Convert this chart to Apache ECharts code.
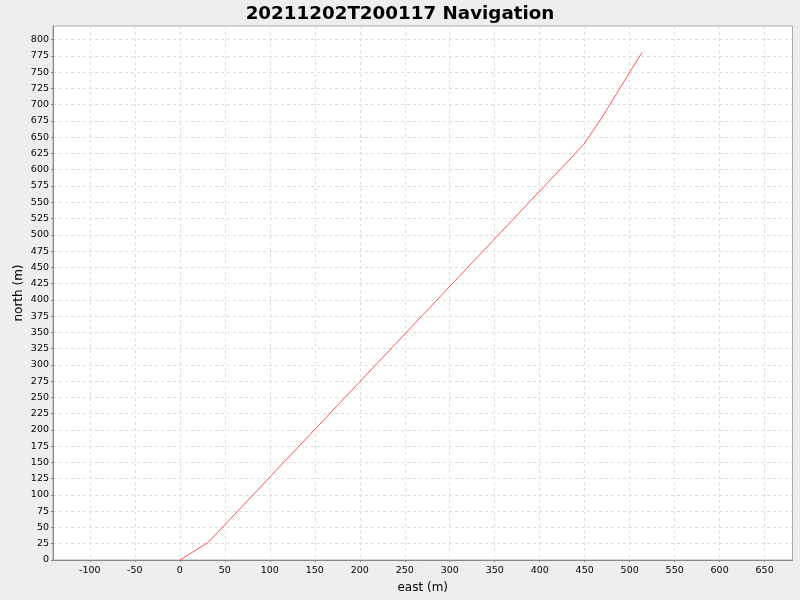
<!DOCTYPE html>
<html><head><meta charset="utf-8">
<script src="https://cdn.jsdelivr.net/npm/echarts@6/dist/echarts.min.js"></script>
<style>html,body{margin:0;padding:0;background:#eeeeee;}#c{width:800px;height:600px;}</style>
</head><body><div id="c"></div>
<script>
const titleText = '20211202T200117 Navigation';
const east = [0, 31.5, 449, 469, 514];
const north = [0, 27, 639, 680, 781];
const xTicks = [-100, -50, 0, 50, 100, 150, 200, 250, 300, 350, 400, 450, 500, 550, 600, 650];
const yTicks = [];
for (let v = 0; v <= 800; v += 25) yTicks.push(v);

const chart = echarts.init(document.getElementById('c'), null, {renderer: 'canvas'});
const font = 'DejaVu Sans';
chart.setOption({
  backgroundColor: '#eeeeee',
  animation: false,
  title: {text: titleText, left: 'center', top: 0,
    textStyle: {fontFamily: font, fontWeight: 'bold', fontSize: 18.3, color: '#000'}},
  grid: {left: 53, right: 7.5, top: 26, bottom: 40, show: true, backgroundColor: '#fff', borderColor: '#aaaaaa', borderWidth: 1},
  xAxis: {
    type: 'value', min: -141, max: 681,
    name: 'east (m)', nameLocation: 'middle', nameGap: 22, nameMoveOverlap: false,
    nameTextStyle: {fontFamily: font, fontSize: 12, color: '#000'},
    axisLine: {show: true, onZero: false, lineStyle: {color: '#888', width: 1}},
    axisTick: {show: true, length: 2, inside: false, customValues: xTicks, lineStyle: {color: '#888'}},
    axisLabel: {customValues: xTicks, fontFamily: font, fontSize: 9.5, color: '#000', margin: 6},
    splitLine: {show: true, lineStyle: {color: '#dddddd', type: [3, 3], width: 1}}
  },
  yAxis: {
    type: 'value', min: 0, max: 821,
    name: 'north (m)', nameLocation: 'middle', nameGap: 28, nameRotate: 90, nameMoveOverlap: false,
    nameTextStyle: {fontFamily: font, fontSize: 12, color: '#000'},
    axisLine: {show: true, onZero: false, lineStyle: {color: '#888', width: 1}},
    axisTick: {show: true, length: 2, customValues: yTicks, lineStyle: {color: '#888'}},
    axisLabel: {customValues: yTicks, fontFamily: font, fontSize: 9.5, color: '#000', margin: 4},
    splitLine: {show: true, lineStyle: {color: '#dddddd', type: [3, 3], width: 1}}
  },
  series: [{
    type: 'line', data: east.map((e, i) => [e, north[i]]),
    showSymbol: false, symbol: 'none',
    lineStyle: {color: '#ff5555', width: 1},
    itemStyle: {color: '#ff5555'}
  }]
});
</script></body></html>
